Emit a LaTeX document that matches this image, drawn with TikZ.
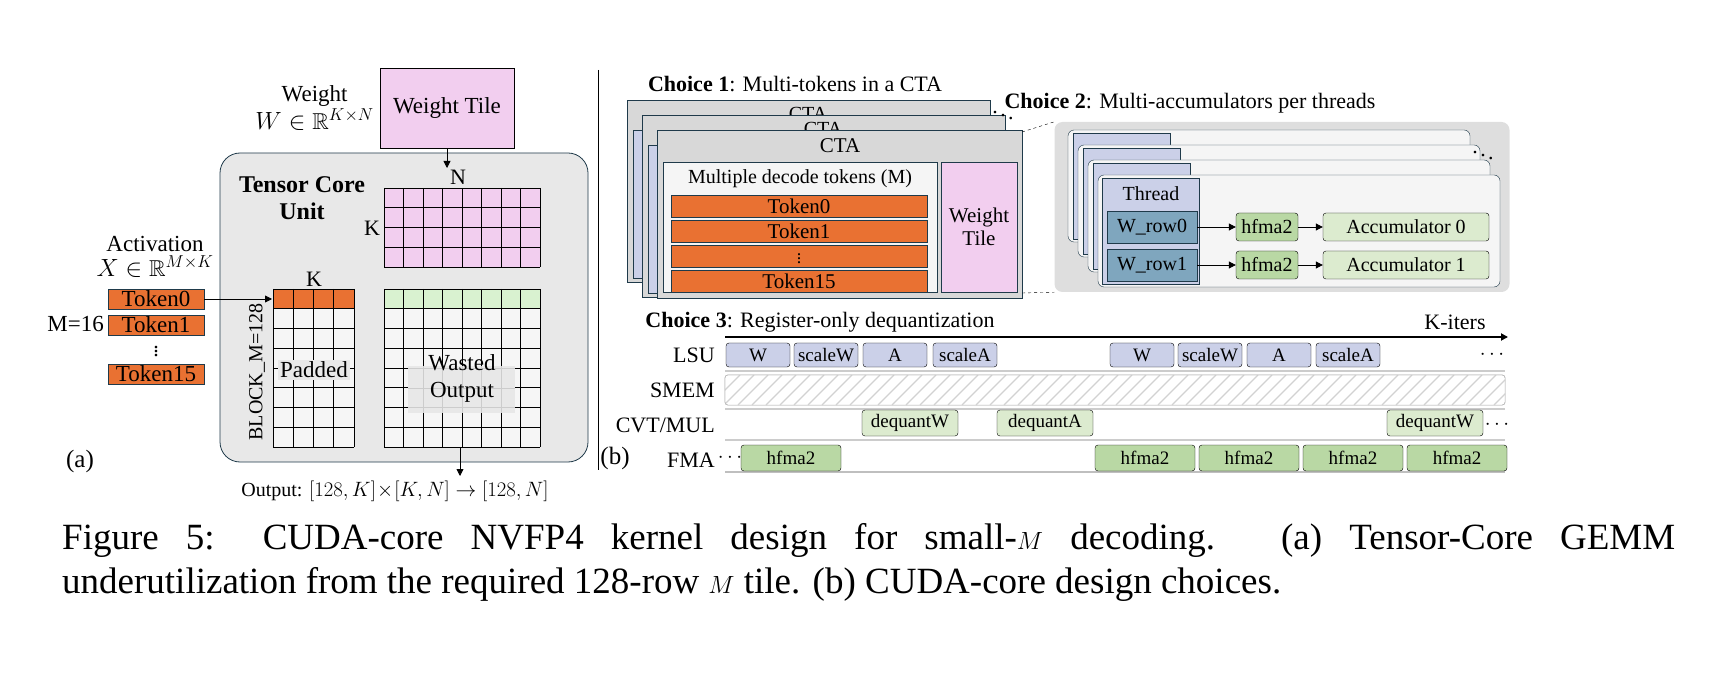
\documentclass[tikz,border=0pt]{standalone}
\usepackage{fontspec}
\setmainfont{Liberation Serif}
\usepackage{amssymb}
\usetikzlibrary{arrows.meta}
\definecolor{orng}{HTML}{E97132}
\definecolor{pnk}{HTML}{F2CEEF}
\definecolor{lgr}{HTML}{E8E8E8}
\definecolor{grn}{HTML}{D9F2D0}
\definecolor{mgrn}{HTML}{B9D8A4}
\definecolor{lgrn}{HTML}{DCEBCF}
\definecolor{lav}{HTML}{CBD0E8}
\definecolor{teal}{HTML}{7FA6BE}
\definecolor{bord}{HTML}{1F3A4A}
\newcommand\myfs[1]{\fontsize{#1}{#1}\selectfont}
\tikzset{
  tok/.style={draw=bord,fill=orng,minimum height=20pt,inner sep=0pt,font=\myfs{23}},
  lsu/.style={draw=black,fill=lav,rounded corners=3pt,minimum height=24pt,inner sep=0pt,font=\myfs{19}},
  deq/.style={draw=black,fill=lgrn,rounded corners=3pt,minimum height=26pt,inner sep=0pt,font=\myfs{19}},
  fmab/.style={draw=black,fill=mgrn,rounded corners=3pt,minimum height=26pt,inner sep=0pt,font=\myfs{19}},
  lbl/.style={font=\myfs{22},inner sep=0pt},
  arr/.style={-{Triangle[length=7pt,width=7pt]},thick},
}
\begin{document}
\begin{tikzpicture}[x=1pt,y=-1pt]
\useasboundingbox (0,0) rectangle (1734,692);
% ===== (a) =====
\node[lbl,align=center,font=\myfs{23},anchor=east] (wlab) at (374,108) {Weight\\[2pt]$W\in\mathbb{R}^{K\times N}$};
\node[draw=black,fill=pnk,minimum width=134pt,minimum height=80pt,font=\myfs{23}] (wt) at (447,108) {Weight Tile};
\draw[bord,thick,fill=lgr,rounded corners=20pt] (220,153) rectangle (588,462);
\node[lbl,font=\myfs{24}\bfseries,align=center] (tcu) at (302,198) {Tensor Core\\[3pt]Unit};
\coordinate (ntop) at (447,168);
\draw[arr] (wt.south) -- (ntop);
\node[lbl] (nlab) at (458,177) {N};
\node[lbl] (klab) at (372,228) {K};
% pink grid
\fill[pnk] (384,188) rectangle (540,267);
\foreach \i in {0,...,8} \draw[thick] ({384+\i*19.5},188) -- ++(0,79);
\foreach \j in {0,...,4} \draw[thick] (384,{188+\j*19.75}) -- ++(156,0);
% left grid
\node[lbl] (k2) at (314,279) {K};
\fill[orng] (273,289) rectangle (354,309);
\fill[white!60!lgr] (273,309) rectangle (354,447);
\foreach \i in {0,...,4} \draw[thick] ({273+\i*20.25},289) -- ++(0,158);
\foreach \j in {0,...,8} \draw[thick] (273,{289+\j*19.75}) -- ++(81,0);
\node[fill=lgr,inner sep=2pt,font=\myfs{23}] (pad) at (314,370) {Padded};
% right grid
\fill[grn] (384,289) rectangle (540,309);
\fill[white!60!lgr] (384,309) rectangle (540,447);
\foreach \i in {0,...,8} \draw[thick] ({384+\i*19.5},289) -- ++(0,158);
\foreach \j in {0,...,8} \draw[thick] (384,{289+\j*19.75}) -- ++(156,0);
\fill[lgr] (408,366) rectangle (515,413);
\foreach \i in {2,...,6} \draw[gray!40] ({384+\i*19.5},366) -- ++(0,47);
\foreach \j in {4,5,6} \draw[gray!40] (408,{289+\j*19.75}) -- ++(107,0);
\node[lbl,align=center,font=\myfs{23}] (wo) at (462,378) {Wasted\\[4pt]Output};
\node[lbl,rotate=90,font=\myfs{20}] (bm) at (257,372) {BLOCK\_M=128};
% activation
\node[lbl,align=center,font=\myfs{23}] (act) at (155,257) {Activation\\[2pt]$X\in\mathbb{R}^{M\times K}$};
\node[tok,minimum width=96pt] (t0) at (156,299) {Token0};
\node[tok,minimum width=96pt] (t1) at (156,325) {Token1};
\node[lbl] (tdots) at (156,349) {$\vdots$};
\node[tok,minimum width=96pt] (t15) at (156,374) {Token15};
\node[lbl,font=\myfs{23},anchor=east] (m16) at (104,324) {M=16};
\coordinate (gl) at (272,299);
\draw[arr] (t0.east) -- (gl);
\node[lbl,font=\myfs{25}] (la) at (80,461) {(a)};
\coordinate (ob) at (460,447);
\coordinate (oe) at (460,476);
\draw[arr] (ob) -- (oe);
\node[lbl,font=\myfs{20}] (out) at (395,491) {Output: $[128,K]\!\times\![K,N]\rightarrow[128,N]$};
\draw (598,70) -- (598,470);
% ===== (b) Choice 1 =====
\node[lbl] (c1) at (795,84) {\textbf{Choice 1}: Multi-tokens in a CTA};
\foreach \dx/\dy in {0/0,15/15} {
  \draw[bord,fill=lgr!85!gray] ({627+\dx},{100+\dy}) rectangle ++(363,182);
  \fill[lav] ({633+\dx},{130+\dy}) rectangle ++(12,148);
  \draw[bord] ({633+\dx},{130+\dy}) rectangle ++(12,148);
  \node[lbl,font=\myfs{20}] at ({808+\dx},{114+\dy}) {CTA};
}
\draw[bord,fill=lgr!85!gray] (657,130) rectangle (1022,298);
\node[lbl,font=\myfs{21}] (cta) at (840,146) {CTA};
\draw[bord,fill=gray!8] (663,162) rectangle (937,292);
\node[lbl,font=\myfs{20}] (mdt) at (800,179) {Multiple decode tokens (M)};
\node[tok,minimum width=256pt,minimum height=22pt,font=\myfs{21}] (c0) at (799,206) {Token0};
\node[tok,minimum width=256pt,minimum height=22pt,font=\myfs{21}] (c1t) at (799,231) {Token1};
\node[tok,minimum width=256pt,minimum height=22pt,font=\myfs{18}] (c2) at (799,256) {$\vdots$};
\node[tok,minimum width=256pt,minimum height=22pt,font=\myfs{21}] (c15) at (799,281) {Token15};
\node[draw=bord,fill=pnk,minimum width=76pt,minimum height=130pt,align=center,font=\myfs{21}] (cwt) at (979,227) {Weight\\[2pt]Tile};
\node[lbl] (dd1) at (1003,112) {$\ddots$};
% ===== Choice 2 =====
\node[lbl] (c2l) at (1190,103) {\textbf{Choice 2}: Multi-accumulators per threads};
\node[fill=lgr!90!gray,rounded corners=8pt,minimum width=455pt,minimum height=170pt] (panel) at (1282,207) {};
\draw[dashed] (1022,132) -- (panel.north west);
\draw[dashed] (1022,293) -- (panel.south west);
\foreach \dx/\dy in {-30/-45,-20/-30,-10/-15} {
  \draw[bord,fill=gray!8,rounded corners=6pt] ({1098+\dx},{175+\dy}) rectangle ++(402,112);
  \draw[bord,fill=lav] ({1103+\dx},{178+\dy}) rectangle ++(97,106);
}
\node[draw=bord,fill=gray!8,rounded corners=6pt,minimum width=402pt,minimum height=112pt] (card) at (1299,231) {};
\node[draw=bord,fill=lav,minimum width=97pt,minimum height=106pt] (thr) at (1151,231) {};
\node[lbl,font=\myfs{20}] (thl) at (1151,194) {Thread};
\node[draw=bord,fill=teal,minimum width=90pt,minimum height=32pt,inner sep=0pt,font=\myfs{20}] (w0) at (1152,227) {W\_row0};
\node[draw=bord,fill=teal,minimum width=90pt,minimum height=32pt,inner sep=0pt,font=\myfs{20}] (w1) at (1152,265) {W\_row1};
\node[draw=black,fill=mgrn,rounded corners=3pt,minimum width=62pt,minimum height=28pt,inner sep=0pt,font=\myfs{20}] (h0) at (1267,227) {hfma2};
\node[draw=black,fill=mgrn,rounded corners=3pt,minimum width=62pt,minimum height=28pt,inner sep=0pt,font=\myfs{20}] (h1) at (1267,265) {hfma2};
\node[draw=black,fill=lgrn,rounded corners=3pt,minimum width=166pt,minimum height=28pt,inner sep=0pt,font=\myfs{20}] (a0) at (1406,227) {Accumulator 0};
\node[draw=black,fill=lgrn,rounded corners=3pt,minimum width=166pt,minimum height=28pt,inner sep=0pt,font=\myfs{20}] (a1) at (1406,265) {Accumulator 1};
\draw[arr] (w0) -- (h0); \draw[arr] (h0) -- (a0);
\draw[arr] (w1) -- (h1); \draw[arr] (h1) -- (a1);
\node[lbl] (dd2) at (1483,152) {$\ddots$};
% ===== Choice 3 =====
\node[lbl] (c3) at (820,322) {\textbf{Choice 3}: Register-only dequantization};
\node[lbl] (ki) at (1455,322) {K-iters};
\coordinate (as) at (725,337);
\coordinate (ae) at (1508,337);
\draw[arr,line width=2pt] (as) -- (ae);
\foreach \yy in {371,409,440} \draw[gray!40,line width=1.5pt] (725,\yy) -- (1505,\yy);
\draw[gray!50,line width=1.5pt] (725,472) -- (1505,472);
\node[lbl,anchor=east] (rl) at (715,355) {LSU};
\node[lbl,anchor=east] (rs) at (715,390) {SMEM};
\node[lbl,anchor=east] (rc) at (715,425) {CVT/MUL};
\node[lbl,anchor=east] (rf) at (715,460) {FMA};
\node[lbl] (b) at (615,458) {\myfs{25}(b)};
\node[lsu,minimum width=64pt] (l1) at (758,355) {W};
\node[lsu,minimum width=64pt] (l2) at (826,355) {scaleW};
\node[lsu,minimum width=64pt] (l3) at (895,355) {A};
\node[lsu,minimum width=64pt] (l4) at (965,355) {scaleA};
\node[lsu,minimum width=64pt] (l5) at (1142,355) {W};
\node[lsu,minimum width=64pt] (l6) at (1210,355) {scaleW};
\node[lsu,minimum width=64pt] (l7) at (1279,355) {A};
\node[lsu,minimum width=64pt] (l8) at (1348,355) {scaleA};
\node[lbl] (ld) at (1492,355) {$\cdots$};
\node[draw=gray!60,fill=white,rounded corners=3pt,minimum width=780pt,minimum height=30pt] (smem) at (1115,390) {};
\begin{scope}
\clip[rounded corners=3pt] (smem.south west) rectangle (smem.north east);
\foreach \k in {0,...,58} \draw[gray!35,line width=1.3pt] ({710+\k*14},405) -- ++(30,-30);
\end{scope}
\draw[gray!60,rounded corners=3pt] (smem.south west) rectangle (smem.north east);
\node[deq,minimum width=96pt] (d1) at (910,423) {dequantW};
\node[deq,minimum width=96pt] (d2) at (1045,423) {dequantA};
\node[deq,minimum width=96pt] (d3) at (1435,423) {dequantW};
\node[lbl] (dd) at (1497,425) {$\cdots$};
\node[lbl] (fd) at (730,458) {$\cdots$};
\node[fmab,minimum width=100pt] (f1) at (791,458) {hfma2};
\node[fmab,minimum width=100pt] (f2) at (1145,458) {hfma2};
\node[fmab,minimum width=100pt] (f3) at (1249,458) {hfma2};
\node[fmab,minimum width=100pt] (f4) at (1353,458) {hfma2};
\node[fmab,minimum width=100pt] (f5) at (1457,458) {hfma2};
% ===== caption =====
\node[anchor=west,inner sep=0pt,font=\myfs{37}] (cap1) at (62,540) {\makebox[1613pt][s]{Figure 5: CUDA-core NVFP4 kernel design for small-$M$ decoding. (a) Tensor-Core GEMM}};
\node[anchor=west,inner sep=0pt,font=\myfs{37}] (cap2) at (62,584) {underutilization from the required 128-row $M$ tile. (b) CUDA-core design choices.};
\end{tikzpicture}
\end{document}
